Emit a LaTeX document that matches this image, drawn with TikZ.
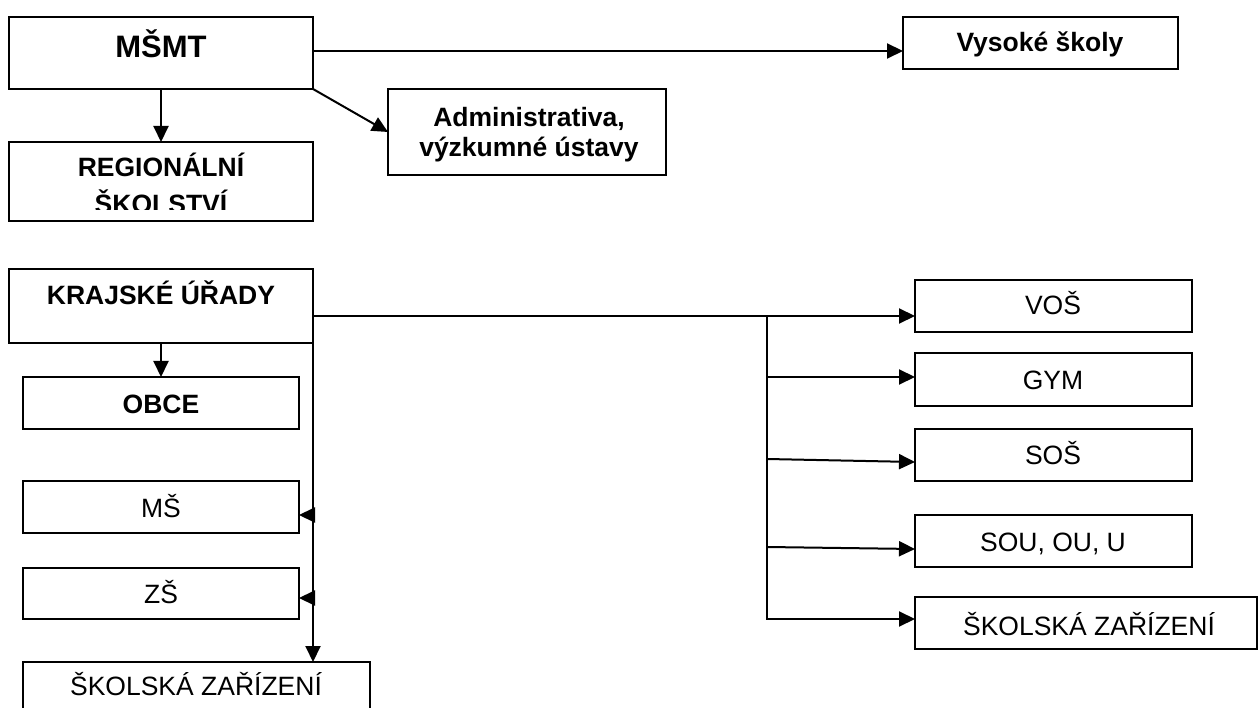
\documentclass[tikz,border=0pt]{standalone}
\usepackage{fontspec}
\setmainfont{Liberation Sans}
\usetikzlibrary{arrows.meta}
\tikzset{
  box/.style={draw, line width=1.5pt, rectangle, inner sep=0pt, outer sep=0pt},
  rb/.style 2 args={box, minimum width=#1, minimum height=#2, anchor=north west},
  arr/.style={line width=2pt, -{Triangle[length=16pt,width=15pt]}},
  ln/.style={line width=2pt},
  bt/.style={font=\fontsize{26.5}{30}\selectfont\bfseries, inner sep=0pt, anchor=base},
  rt/.style={font=\fontsize{26.5}{30}\selectfont, inner sep=0pt, anchor=base},
  big/.style={font=\fontsize{31}{34}\selectfont\bfseries, inner sep=0pt, anchor=base}
}
\begin{document}
\begin{tikzpicture}[x=1pt,y=-1pt]
\useasboundingbox (0,0) rectangle (1258,708);
\clip (0,0) rectangle (1258,708);
% boxes
\node[rb={304pt}{72pt}] (msmt) at (9,17) {};
\node[rb={275pt}{52pt}] (vs) at (903,17) {};
\node[rb={278pt}{86pt}] (adm) at (388,89) {};
\node[rb={304pt}{79pt}] (reg) at (9,142) {};
\node[rb={304pt}{74pt}] (ku) at (9,269) {};
\node[rb={276pt}{52pt}] (obce) at (23,377) {};
\node[rb={276pt}{52pt}] (ms) at (23,481) {};
\node[rb={276pt}{51pt}] (zs) at (23,568) {};
\node[rb={347pt}{60pt}] (szl) at (23,662) {};
\node[rb={277pt}{52pt}] (vos) at (915,280) {};
\node[rb={277pt}{53pt}] (gym) at (915,353) {};
\node[rb={277pt}{52pt}] (sos) at (915,429) {};
\node[rb={277pt}{52pt}] (sou) at (915,515) {};
\node[rb={342pt}{52pt}] (szr) at (915,597) {};
% texts
\node[big] (tmsmt) at (161,58) {MŠMT};
\node[bt] (tvs) at (1040,52) {Vysoké školy};
\node[bt] (tadm1) at (529,127) {Administrativa,};
\node[bt] (tadm2) at (529,157) {výzkumné ústavy};
\node[bt] (treg1) at (161,177) {REGIONÁLNÍ};
\begin{scope}
\clip (9,142) rectangle (313,210);
\node[bt] (treg2) at (161,214) {ŠKOLSTVÍ};
\end{scope}
\node[bt] (tku) at (161,305) {KRAJSKÉ ÚŘADY};
\node[bt] (tobce) at (161,413) {OBCE};
\node[rt] (tms) at (161,517) {MŠ};
\node[rt] (tzs) at (161,603) {ZŠ};
\node[rt] (tszl) at (196,695) {ŠKOLSKÁ ZAŘÍZENÍ};
\node[rt] (tvos) at (1053,315) {VOŠ};
\node[rt] (tgym) at (1053,389) {GYM};
\node[rt] (tsos) at (1053,464) {SOŠ};
\node[rt] (tsou) at (1053,551) {SOU, OU, U};
\node[rt] (tszr) at (1089,635) {ŠKOLSKÁ ZAŘÍZENÍ};
% junctions
\coordinate (jr) at (767,316);
\coordinate (jl) at (ku.south east);
% connectors top
\draw[arr] (msmt.east |- 0,51) -- (vs.west |- 0,51);
\draw[arr] (msmt.south) -- (reg.north);
\draw[arr] (msmt.south east) -- (adm.west);
% krajske
\draw[arr] (ku.south) -- (obce.north);
\draw[ln] (ku.east |- jr) -- (jr);
\draw[arr] (jr) -- (vos.west |- jr);
\draw[arr] (jr) -- (jr |- 0,619) -- (szr.west |- 0,619);
\draw[arr] (jr |- 0,377) -- (gym.west |- 0,377);
\draw[arr] (jr |- 0,459) -- (sos.west |- 0,462);
\draw[arr] (jr |- 0,547) -- (sou.west |- 0,549);
% left vertical
\draw[arr] (jl) -- (jl |- szl.north);
\draw[arr] (jl |- 0,515) -- (ms.east |- 0,515);
\draw[arr] (jl |- 0,598) -- (zs.east |- 0,598);
\end{tikzpicture}
\end{document}
